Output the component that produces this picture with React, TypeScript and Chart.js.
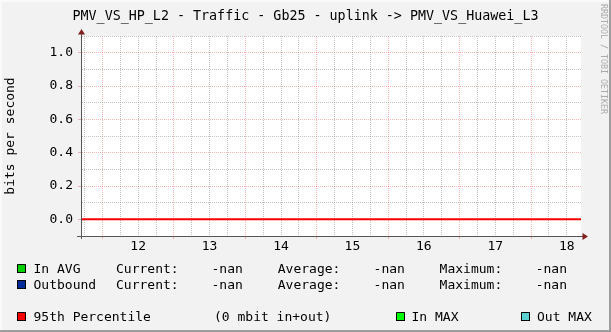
import React, { useEffect, useRef } from 'react';
import { Chart, registerables } from 'chart.js';

Chart.register(...registerables);

// ---------- text ----------
const TITLE = 'PMV_VS_HP_L2 - Traffic - Gb25 - uplink -> PMV_VS_Huawei_L3';
const Y_TITLE = 'bits per second';
const WATERMARK = 'RRDTOOL / TOBI OETIKER';

// ---------- axes (x in hours of the day) ----------
const X_MIN = 11.2;
const X_MAX = 18.2;
const xLabelHours = [12, 13, 14, 15, 16, 17, 18];
const Y_MIN = -0.1;
const Y_MAX = 1.1;
const yLabelValues = [0.0, 0.2, 0.4, 0.6, 0.8, 1.0];

// ---------- data (all series are -nan, only the 95th percentile rule exists) ----------
const timeRange = [11.2, 18.2];
const inAvg: (number | null)[] = [null, null];
const outbound: (number | null)[] = [null, null];
const inMax: (number | null)[] = [null, null];
const outMax: (number | null)[] = [null, null];
const percentile95 = [0, 0];

// ---------- legend ----------
const legendNames = ['In AVG', 'Outbound'];
const legendColors = ['#00CF00', '#002A97'];
const legendCurrent = ['-nan', '-nan'];
const legendAverage = ['-nan', '-nan'];
const legendMaximum = ['-nan', '-nan'];
const pctLabel = '95th Percentile';
const pctText = '(0 mbit in+out)';
const pctColor = '#FF0000';
const maxNames = ['In MAX', 'Out MAX'];
const maxColors = ['#00FF00', '#5CD1D1'];

const MONO = '"DejaVu Sans Mono", monospace';
const BACK = '#F2F2F2';
const AXIS = '#555555';
const ARROW = '#801F1F';
const MGRID = 'rgba(235,80,80,0.42)';
const GRID = 'rgba(140,140,140,0.5)';

const near = (a: number, b: number) => Math.abs(a - b) < 1e-6;

const arrowPlugin = {
  id: 'rrdArrows',
  beforeDraw(chart: any) {
    const { ctx, chartArea } = chart;
    ctx.save();
    ctx.fillStyle = '#FFFFFF';
    ctx.fillRect(chartArea.left, chartArea.top, chartArea.right - chartArea.left, chartArea.bottom - chartArea.top);
    ctx.restore();
  },
  afterDraw(chart: any) {
    const { ctx, chartArea } = chart;
    const { left, right, top, bottom } = chartArea;
    const ax = Math.round(left) + 0.5;
    const ay = Math.round(bottom) + 0.5;
    ctx.save();
    ctx.strokeStyle = AXIS;
    ctx.lineWidth = 1;
    ctx.beginPath();
    ctx.moveTo(ax, top - 2);
    ctx.lineTo(ax, bottom + 3);
    ctx.moveTo(left - 4, ay);
    ctx.lineTo(right + 2, ay);
    ctx.stroke();
    ctx.fillStyle = ARROW;
    ctx.beginPath();
    ctx.moveTo(ax, top - 7);
    ctx.lineTo(ax - 3.5, top - 1.5);
    ctx.lineTo(ax + 3.5, top - 1.5);
    ctx.closePath();
    ctx.fill();
    ctx.beginPath();
    ctx.moveTo(right + 7, ay);
    ctx.lineTo(right + 1.5, ay - 3.5);
    ctx.lineTo(right + 1.5, ay + 3.5);
    ctx.closePath();
    ctx.fill();
    ctx.restore();
  },
};

function ChartCanvas() {
  const ref = useRef<HTMLCanvasElement | null>(null);
  useEffect(() => {
    if (!ref.current) return;
    const xTicks: number[] = [];
    for (let q = Math.ceil(X_MIN * 4); q <= Math.floor(X_MAX * 4); q++) xTicks.push(q / 4);
    const yTicks: number[] = [];
    for (let t = Math.round(Y_MIN * 10); t <= Math.round(Y_MAX * 10); t++) yTicks.push(t / 10);

    const series = (vals: (number | null)[]) => vals.map((v, i) => ({ x: timeRange[i], y: v }));

    const chart = new Chart(ref.current, {
      type: 'line',
      data: {
        datasets: [
          { label: 'In AVG', data: series(inAvg), borderColor: legendColors[0], pointRadius: 0, borderWidth: 1 },
          { label: 'Outbound', data: series(outbound), borderColor: legendColors[1], pointRadius: 0, borderWidth: 1 },
          { label: 'In MAX', data: series(inMax), borderColor: maxColors[0], pointRadius: 0, borderWidth: 1 },
          { label: 'Out MAX', data: series(outMax), borderColor: maxColors[1], pointRadius: 0, borderWidth: 1 },
          { label: pctLabel, data: series(percentile95), borderColor: pctColor, pointRadius: 0, borderWidth: 2 },
        ],
      },
      options: {
        responsive: false,
        animation: false,
        devicePixelRatio: 1,
        events: [],
        layout: { padding: { left: 0, right: 30, top: 36, bottom: 0 } },
        plugins: {
          legend: { display: false },
          tooltip: { enabled: false },
          title: { display: false },
        },
        scales: {
          x: {
            type: 'linear',
            min: X_MIN,
            max: X_MAX,
            afterBuildTicks: (s: any) => {
              s.ticks = xTicks.map((v) => ({ value: v }));
            },
            afterFit: (s: any) => {
              s.height = 96;
            },
            ticks: {
              autoSkip: false,
              maxRotation: 0,
              padding: 0,
              color: '#000000',
              font: { family: MONO, size: 13 },
              callback: (v: any) => {
                const h = xLabelHours.find((hh) => near(hh, Number(v)));
                return h === undefined ? '' : String(h);
              },
            },
            grid: {
              lineWidth: 1,
              tickLength: 3,
              color: (c: any) => (c.tick && near(c.tick.value % 1, 0.5) ? MGRID : GRID),
              tickColor: (c: any) => (c.tick && near(c.tick.value % 1, 0.5) ? MGRID : 'rgba(0,0,0,0)'),
              tickBorderDash: [],
            },
            border: { display: true, color: AXIS, width: 1, dash: [1, 1] },
          },
          y: {
            type: 'linear',
            min: Y_MIN,
            max: Y_MAX,
            afterBuildTicks: (s: any) => {
              s.ticks = yTicks.map((v) => ({ value: v }));
            },
            afterFit: (s: any) => {
              s.width = 81;
            },
            ticks: {
              autoSkip: false,
              padding: 5,
              color: '#000000',
              font: { family: MONO, size: 13 },
              callback: (v: any) => {
                const m = yLabelValues.find((yy) => near(yy, Number(v)));
                return m === undefined ? '' : m.toFixed(1);
              },
            },
            grid: {
              lineWidth: 1,
              tickLength: 3,
              color: (c: any) => {
                if (!c.tick) return GRID;
                if (near(c.tick.value, Y_MIN)) return 'rgba(0,0,0,0)';
                return yLabelValues.some((yy) => near(yy, c.tick.value)) ? MGRID : GRID;
              },
              tickColor: (c: any) => {
                if (!c.tick) return 'rgba(0,0,0,0)';
                return yLabelValues.some((yy) => near(yy, c.tick.value)) ? MGRID : 'rgba(0,0,0,0)';
              },
              tickBorderDash: [],
            },
            border: { display: true, color: AXIS, width: 1, dash: [1, 1] },
            title: {
              display: true,
              text: Y_TITLE,
              color: '#000000',
              font: { family: MONO, size: 13 },
              padding: { top: 3, bottom: 0 },
            },
          },
        },
      },
      plugins: [arrowPlugin],
    } as any);
    return () => chart.destroy();
  }, []);
  return <canvas ref={ref} width={611} height={332} style={{ display: 'block', width: 611, height: 332 }} />;
}

const textStyle: React.CSSProperties = {
  position: 'absolute',
  fontFamily: MONO,
  fontSize: 13,
  lineHeight: '13px',
  color: '#000',
  whiteSpace: 'pre',
};

function Swatch({ x, cy, color }: { x: number; cy: number; color: string }) {
  return (
    <div
      style={{
        position: 'absolute',
        left: x,
        top: cy - 4.5,
        width: 9,
        height: 9,
        boxSizing: 'border-box',
        border: '1px solid #000',
        background: color,
      }}
    />
  );
}

function Txt({ x, cy, children }: { x: number; cy: number; children: React.ReactNode }) {
  return <div style={{ ...textStyle, left: x, top: cy - 6.3 }}>{children}</div>;
}

export default function App() {
  const rowY = [268.5, 284];
  const row3 = 316.5;
  return (
    <div style={{ position: 'fixed', left: 0, top: 0, width: 611, height: 332, background: BACK, overflow: 'hidden' }}>
      <ChartCanvas />
      <div
        style={{
          ...textStyle,
          left: 0,
          width: 611,
          top: 9.2,
          fontSize: 13.35,
          textAlign: 'center',
        }}
      >
        {TITLE}
      </div>
      {legendNames.map((n, i) => (
        <React.Fragment key={n}>
          <Swatch x={17} cy={rowY[i]} color={legendColors[i]} />
          <Txt x={33.5} cy={rowY[i]}>{n}</Txt>
          <Txt x={116} cy={rowY[i]}>Current:</Txt>
          <Txt x={211.5} cy={rowY[i]}>{legendCurrent[i]}</Txt>
          <Txt x={277.8} cy={rowY[i]}>Average:</Txt>
          <Txt x={373.6} cy={rowY[i]}>{legendAverage[i]}</Txt>
          <Txt x={439.6} cy={rowY[i]}>Maximum:</Txt>
          <Txt x={535.7} cy={rowY[i]}>{legendMaximum[i]}</Txt>
        </React.Fragment>
      ))}
      <Swatch x={17} cy={row3} color={pctColor} />
      <Txt x={33.5} cy={row3}>{pctLabel}</Txt>
      <Txt x={214} cy={row3}>{pctText}</Txt>
      <Swatch x={396} cy={row3} color={maxColors[0]} />
      <Txt x={411.5} cy={row3}>{maxNames[0]}</Txt>
      <Swatch x={520.5} cy={row3} color={maxColors[1]} />
      <Txt x={537} cy={row3}>{maxNames[1]}</Txt>
      <div
        style={{
          position: 'absolute',
          left: 598.5,
          top: 4,
          fontFamily: MONO,
          fontSize: 8.3,
          lineHeight: '10px',
          color: '#ABABAB',
          writingMode: 'vertical-rl',
          whiteSpace: 'pre',
        }}
      >
        {WATERMARK}
      </div>
      <div style={{ position: 'absolute', left: 0, top: 0, width: 611, height: 2, background: '#FAFAFA' }} />
      <div style={{ position: 'absolute', left: 0, top: 0, width: 2, height: 332, background: '#FAFAFA' }} />
      <div style={{ position: 'absolute', left: 609, top: 0, width: 2, height: 332, background: '#9E9E9E' }} />
      <div style={{ position: 'absolute', left: 0, top: 330, width: 611, height: 2, background: '#9E9E9E' }} />
    </div>
  );
}
